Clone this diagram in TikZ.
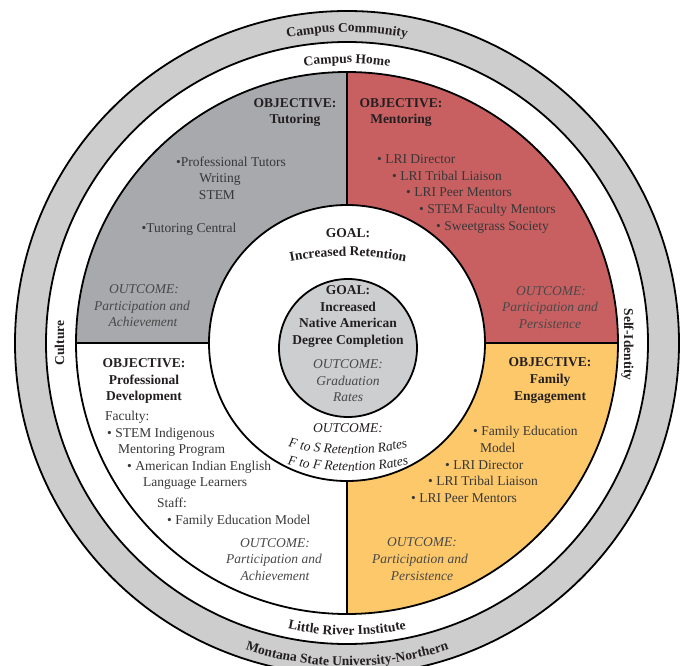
\documentclass[tikz,border=0pt]{standalone}
\usepackage{fontspec}
\setmainfont{Liberation Serif}
\usetikzlibrary{decorations.text}
\definecolor{bandgrey}{RGB}{205,205,205}
\definecolor{quadgrey}{RGB}{167,169,172}
\definecolor{quadred}{RGB}{200,96,98}
\definecolor{quadyellow}{RGB}{252,200,106}
\definecolor{innergrey}{RGB}{205,206,208}
\definecolor{boldcol}{RGB}{35,31,32}
\definecolor{bodycol}{RGB}{55,55,55}
\definecolor{itcol}{RGB}{72,72,72}
\newcommand\lrifs{\fontsize{13.5}{16.7}\selectfont}
\tikzset{
  ring/.style={line width=1.8pt, draw=black},
  bodytxt/.style={font=\lrifs, text=bodycol, inner sep=0pt},
  boldtxt/.style={font=\lrifs\bfseries, text=boldcol, inner sep=0pt},
  ittxt/.style={font=\lrifs\itshape, text=itcol, inner sep=0pt},
}
\begin{document}
\begin{tikzpicture}[x=1pt,y=1pt]
\useasboundingbox (-347,-322) rectangle (338,343);
\fill[white] (-347,-322) rectangle (338,343);
% rings
\draw[ring, fill=bandgrey] (0,0) circle[radius=332];
\draw[ring, fill=white] (0,0) circle[radius=301];
\fill[white] (0,0) circle[radius=271];
\fill[quadred] (0,0) -- (0:271) arc[start angle=0,end angle=90,radius=271] -- cycle;
\fill[quadgrey] (0,0) -- (90:271) arc[start angle=90,end angle=180,radius=271] -- cycle;
\fill[quadyellow] (0,0) -- (270:271) arc[start angle=270,end angle=360,radius=271] -- cycle;
\draw[ring] (0,0) circle[radius=271];
\draw[ring] (-271,0) -- (271,0);
\draw[ring] (0,-271) -- (0,271);
\draw[ring, fill=white] (0,0) circle[radius=138];
\draw[ring, fill=innergrey] (1,-5) circle[radius=69];

% curved ring labels
\path[decorate, decoration={text along path, text align=center,
  text={|\lrifs\bfseries\color{boldcol}|Campus Community}}]
  (115:311) arc[start angle=115,end angle=65,radius=311];
\path[decorate, decoration={text along path, text align=center,
  text={|\lrifs\bfseries\color{boldcol}|Campus Home}}]
  (115:280) arc[start angle=115,end angle=65,radius=280];
\path[decorate, decoration={text along path, text align=center,
  text={|\lrifs\bfseries\color{boldcol}|Little River Institute}}]
  (240:292) arc[start angle=240,end angle=300,radius=292];
\path[decorate, decoration={text along path, text align=center,
  text={|\lrifs\bfseries\color{boldcol}|Montana State University-Northern}}]
  (235:323) arc[start angle=235,end angle=305,radius=323];
\node[boldtxt, rotate=90] (culture) at (-287.5,0) {Culture};
\node[boldtxt, rotate=-90] (selfid) at (280.5,-1.5) {Self-Identity};

% tutoring (grey)
\node[boldtxt, anchor=base] (tobj) at (-52,236) {OBJECTIVE:};
\node[boldtxt, anchor=base] (tname) at (-52,219.7) {Tutoring};
\node[bodytxt, anchor=base] (t1) at (-116,177) {\textbullet Professional Tutors};
\node[bodytxt, anchor=base] (t2) at (-127,160.3) {Writing};
\node[bodytxt, anchor=base] (t3) at (-130,143.7) {STEM};
\node[bodytxt, anchor=base] (t4) at (-158,110.3) {\textbullet Tutoring Central};
\node[ittxt, anchor=base] (to1) at (-203,49.7) {OUTCOME:};
\node[ittxt, anchor=base] (to2) at (-205,33) {Participation and};
\node[ittxt, anchor=base] (to3) at (-204,17) {Achievement};

% mentoring (red)
\node[boldtxt, anchor=base] (mobj) at (54,236) {OBJECTIVE:};
\node[boldtxt, anchor=base] (mname) at (54,219.7) {Mentoring};
\node[bodytxt, anchor=base west] (m1) at (30,179.7) {\textbullet{} LRI Director};
\node[bodytxt, anchor=base west] (m2) at (45,163) {\textbullet{} LRI Tribal Liaison};
\node[bodytxt, anchor=base west] (m3) at (59,146.3) {\textbullet{} LRI Peer Mentors};
\node[bodytxt, anchor=base west] (m4) at (72,129.7) {\textbullet{} STEM Faculty Mentors};
\node[bodytxt, anchor=base west] (m5) at (89,113) {\textbullet{} Sweetgrass Society};
\node[ittxt, anchor=base] (mo1) at (204,48) {OUTCOME:};
\node[ittxt, anchor=base] (mo2) at (203,31.3) {Participation and};
\node[ittxt, anchor=base] (mo3) at (203,14.7) {Persistence};

% professional development (white)
\node[boldtxt, anchor=base] (pobj) at (-203,-24.3) {OBJECTIVE:};
\node[boldtxt, anchor=base] (pname1) at (-203,-41) {Professional};
\node[boldtxt, anchor=base] (pname2) at (-203,-57.7) {Development};
\node[bodytxt, anchor=base west] (p1) at (-242,-77.7) {Faculty:};
\node[bodytxt, anchor=base west] (p2) at (-240,-94.3) {\textbullet{} STEM Indigenous};
\node[bodytxt, anchor=base west] (p3) at (-229,-110.3) {Mentoring Program};
\node[bodytxt, anchor=base west] (p4) at (-220,-127) {\textbullet{} American Indian English};
\node[bodytxt, anchor=base west] (p5) at (-204,-143.7) {Language Learners};
\node[bodytxt, anchor=base west] (p6) at (-190,-164.3) {Staff:};
\node[bodytxt, anchor=base west] (p7) at (-180,-181) {\textbullet{} Family Education Model};
\node[ittxt, anchor=base] (po1) at (-72,-204.3) {OUTCOME:};
\node[ittxt, anchor=base] (po2) at (-73,-220.3) {Participation and};
\node[ittxt, anchor=base] (po3) at (-72,-237) {Achievement};

% family engagement (yellow)
\node[boldtxt, anchor=base] (fobj) at (203,-23.7) {OBJECTIVE:};
\node[boldtxt, anchor=base] (fname1) at (203,-40.3) {Family};
\node[boldtxt, anchor=base] (fname2) at (203,-57) {Engagement};
\node[bodytxt, anchor=base west] (f1) at (126,-92.7) {\textbullet{} Family Education};
\node[bodytxt, anchor=base west] (f2) at (133,-109.3) {Model};
\node[bodytxt, anchor=base west] (f3) at (98,-126) {\textbullet{} LRI Director};
\node[bodytxt, anchor=base west] (f4) at (81,-142.7) {\textbullet{} LRI Tribal Liaison};
\node[bodytxt, anchor=base west] (f5) at (64,-159.3) {\textbullet{} LRI Peer Mentors};
\node[ittxt, anchor=base] (fo1) at (75,-203.7) {OUTCOME:};
\node[ittxt, anchor=base] (fo2) at (73,-220.3) {Participation and};
\node[ittxt, anchor=base] (fo3) at (75,-237) {Persistence};

% central goals
\node[boldtxt, anchor=base] (g1) at (1,105.7) {GOAL:};
\path[decorate, decoration={text along path, text align=center,
  text={|\lrifs\bfseries\color{boldcol}|Increased Retention}}]
  (1,-213) ++(105:300) arc[start angle=105,end angle=75,radius=300];
\node[boldtxt, anchor=base] (c1) at (1,48.7) {GOAL:};
\node[boldtxt, anchor=base] (c2) at (1,32) {Increased};
\node[boldtxt, anchor=base] (c3) at (1,15.3) {Native American};
\node[boldtxt, anchor=base] (c4) at (1,-1.3) {Degree Completion};
\node[ittxt, anchor=base] (c5) at (1,-25.3) {OUTCOME:};
\node[ittxt, anchor=base] (c6) at (1,-42) {Graduation};
\node[ittxt, anchor=base] (c7) at (1,-58.7) {Rates};
\node[ittxt, anchor=base, text=boldcol] (r1) at (1,-89.7) {OUTCOME:};
\path[decorate, decoration={text along path, text align=center,
  text={|\lrifs\itshape\color{boldcol}|F to S Retention Rates}}]
  (1,143) ++(250:254) arc[start angle=250,end angle=290,radius=254];
\path[decorate, decoration={text along path, text align=center,
  text={|\lrifs\itshape\color{boldcol}|F to F Retention Rates}}]
  (1,143) ++(250:271) arc[start angle=250,end angle=290,radius=271];
\end{tikzpicture}
\end{document}
